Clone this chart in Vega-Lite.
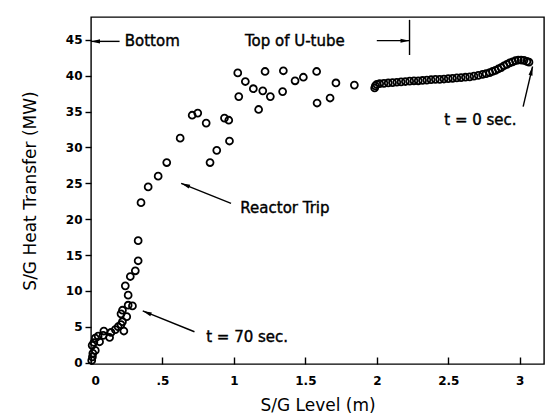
{
  "$schema": "https://vega.github.io/schema/vega-lite/v6.json",
  "width": 453,
  "height": 347,
  "autosize": {"type": "none"},
  "padding": {"left": 91, "top": 17, "right": 2, "bottom": 52},
  "background": "white",
  "config": {
    "view": {"stroke": "black", "strokeWidth": 1.4},
    "font": "DejaVu Sans"
  },
  "datasets": {
    "level": [
      {"x": 0.005, "y": 0.3}, {"x": 0.01, "y": 0.8}, {"x": 0.013, "y": 1.3}, {"x": 0.03, "y": 1.7},
      {"x": 0.008, "y": 2.4}, {"x": 0.02, "y": 2.8}, {"x": 0.03, "y": 3.4}, {"x": 0.06, "y": 2.9},
      {"x": 0.05, "y": 3.7}, {"x": 0.085, "y": 3.8}, {"x": 0.09, "y": 4.4}, {"x": 0.13, "y": 3.5},
      {"x": 0.14, "y": 4.2}, {"x": 0.17, "y": 4.6}, {"x": 0.19, "y": 5.0}, {"x": 0.21, "y": 5.3},
      {"x": 0.23, "y": 4.4}, {"x": 0.22, "y": 5.7}, {"x": 0.21, "y": 6.8}, {"x": 0.22, "y": 7.3},
      {"x": 0.25, "y": 6.4}, {"x": 0.26, "y": 8.0}, {"x": 0.29, "y": 7.9}, {"x": 0.26, "y": 9.4},
      {"x": 0.24, "y": 10.7}, {"x": 0.275, "y": 12.0}, {"x": 0.31, "y": 12.8}, {"x": 0.33, "y": 14.2},
      {"x": 0.33, "y": 17.0}, {"x": 0.35, "y": 22.3}, {"x": 0.40, "y": 24.5}, {"x": 0.47, "y": 26.0},
      {"x": 0.53, "y": 27.9}, {"x": 0.624, "y": 31.3}, {"x": 0.708, "y": 34.5}, {"x": 0.747, "y": 34.8},
      {"x": 0.806, "y": 33.4}, {"x": 0.833, "y": 27.9}, {"x": 0.88, "y": 29.6}, {"x": 0.934, "y": 34.1},
      {"x": 0.964, "y": 33.8}, {"x": 0.969, "y": 30.9}, {"x": 1.027, "y": 40.4}, {"x": 1.034, "y": 37.1},
      {"x": 1.08, "y": 39.2}, {"x": 1.136, "y": 38.2}, {"x": 1.173, "y": 35.3}, {"x": 1.202, "y": 37.9},
      {"x": 1.218, "y": 40.6}, {"x": 1.255, "y": 37.1}, {"x": 1.341, "y": 37.8}, {"x": 1.346, "y": 40.7},
      {"x": 1.428, "y": 39.3}, {"x": 1.486, "y": 39.8}, {"x": 1.579, "y": 40.6}, {"x": 1.582, "y": 36.2},
      {"x": 1.673, "y": 36.9}, {"x": 1.714, "y": 39.0}, {"x": 1.843, "y": 38.7},
      {"x": 1.985, "y": 38.3}, {"x": 1.99, "y": 38.6}, {"x": 2.0, "y": 38.8}, {"x": 2.02, "y": 38.9},
      {"x": 2.05, "y": 38.95}, {"x": 2.08, "y": 39.0}, {"x": 2.11, "y": 39.05}, {"x": 2.14, "y": 39.1},
      {"x": 2.17, "y": 39.15}, {"x": 2.2, "y": 39.2}, {"x": 2.23, "y": 39.25}, {"x": 2.26, "y": 39.3},
      {"x": 2.29, "y": 39.3}, {"x": 2.32, "y": 39.35}, {"x": 2.35, "y": 39.4}, {"x": 2.38, "y": 39.45},
      {"x": 2.41, "y": 39.5}, {"x": 2.44, "y": 39.5}, {"x": 2.47, "y": 39.55}, {"x": 2.5, "y": 39.6},
      {"x": 2.53, "y": 39.65}, {"x": 2.56, "y": 39.7}, {"x": 2.59, "y": 39.75}, {"x": 2.62, "y": 39.8},
      {"x": 2.65, "y": 39.85}, {"x": 2.68, "y": 39.95}, {"x": 2.71, "y": 40.05}, {"x": 2.74, "y": 40.2},
      {"x": 2.765, "y": 40.3}, {"x": 2.79, "y": 40.45}, {"x": 2.81, "y": 40.6}, {"x": 2.83, "y": 40.75},
      {"x": 2.85, "y": 40.95}, {"x": 2.87, "y": 41.15}, {"x": 2.89, "y": 41.4}, {"x": 2.91, "y": 41.6},
      {"x": 2.93, "y": 41.8}, {"x": 2.95, "y": 41.95}, {"x": 2.97, "y": 42.1}, {"x": 2.99, "y": 42.2},
      {"x": 3.01, "y": 42.2}, {"x": 3.03, "y": 42.15}, {"x": 3.05, "y": 42.0}, {"x": 3.065, "y": 41.9}
    ],
    "notes": [
      {"x": 0.236, "y": 44.8, "label": "Bottom"},
      {"x": 1.077, "y": 44.9, "label": "Top of U-tube"},
      {"x": 2.472, "y": 33.8, "label": "t = 0 sec."},
      {"x": 1.045, "y": 21.5, "label": "Reactor Trip"},
      {"x": 0.806, "y": 3.6, "label": "t = 70 sec."}
    ],
    "lines": [
      {"x": 0.2, "y": 44.8, "x2": 0.0, "y2": 44.8},
      {"x": 2.0, "y": 44.9, "x2": 2.229, "y2": 44.9},
      {"x": 2.229, "y": 42.9, "x2": 2.229, "y2": 47.8},
      {"x": 3.024, "y": 35.7, "x2": 3.09, "y2": 41.3},
      {"x": 0.98, "y": 22.2, "x2": 0.631, "y2": 25.0},
      {"x": 0.724, "y": 4.3, "x2": 0.362, "y2": 7.2}
    ],
    "heads": [
      {"x": 0.0, "y": 44.8, "angle": -90},
      {"x": 2.229, "y": 44.9, "angle": 90},
      {"x": 3.09, "y": 41.3, "angle": 13},
      {"x": 0.631, "y": 25.0, "angle": -68},
      {"x": 0.362, "y": 7.2, "angle": -68}
    ]
  },
  "encoding": {
    "x": {
      "field": "x",
      "type": "quantitative",
      "scale": {"domain": [0, 3.17], "nice": false, "zero": false},
      "axis": {
        "values": [0, 0.5, 1, 1.5, 2, 2.5, 3],
        "labelExpr": "datum.value == 0.5 ? '.5' : format(datum.value, '~g')",
        "grid": false,
        "domain": false,
        "tickSize": -7,
        "tickWidth": 1.4,
        "tickColor": "black",
        "labelFont": "DejaVu Sans",
        "labelFontSize": 12,
        "labelFontWeight": "bold",
        "labelColor": "black",
        "labelPadding": 18,
        "title": "S/G Level (m)",
        "titleFont": "DejaVu Sans",
        "titleFontSize": 17,
        "titleFontWeight": "normal",
        "titleColor": "black",
        "titlePadding": 11
      }
    },
    "y": {
      "field": "y",
      "type": "quantitative",
      "scale": {"domain": [-0.2, 48.2], "nice": false, "zero": false},
      "axis": {
        "values": [0, 5, 10, 15, 20, 25, 30, 35, 40, 45],
        "grid": false,
        "domain": false,
        "tickSize": 6,
        "tickWidth": 1.4,
        "tickColor": "black",
        "labelFont": "DejaVu Sans",
        "labelFontSize": 12,
        "labelFontWeight": "bold",
        "labelColor": "black",
        "labelPadding": 3,
        "title": "S/G Heat Transfer (MW)",
        "titleFont": "DejaVu Sans",
        "titleFontSize": 17,
        "titleFontWeight": "normal",
        "titleColor": "black",
        "titlePadding": 26
      }
    }
  },
  "layer": [
    {
      "data": {"name": "level"},
      "mark": {"type": "point", "filled": false, "color": "black", "size": 48, "strokeWidth": 1.8, "opacity": 1}
    },
    {
      "data": {"name": "lines"},
      "mark": {"type": "rule", "color": "black", "strokeWidth": 1.4},
      "encoding": {"x2": {"field": "x2"}, "y2": {"field": "y2"}}
    },
    {
      "data": {"name": "heads"},
      "mark": {"type": "point", "shape": "M0,0L0.45,2L-0.45,2Z", "filled": true, "color": "black", "size": 81, "opacity": 1},
      "encoding": {"angle": {"field": "angle", "type": "quantitative", "scale": null}}
    },
    {
      "data": {"name": "notes"},
      "mark": {"type": "text", "align": "left", "baseline": "middle", "font": "DejaVu Sans", "fontSize": 15, "fontWeight": "normal", "fill": "black", "stroke": "black", "strokeWidth": 0.4},
      "encoding": {"text": {"field": "label"}}
    }
  ]
}
